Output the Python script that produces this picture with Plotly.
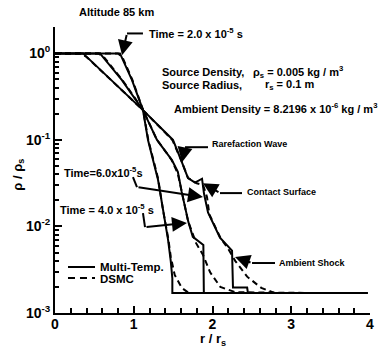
import numpy as np
import plotly.graph_objects as go

# ---- data: density ratio rho/rho_s versus r/r_s ----
# Multi-Temperature solution
mt_t2_r = [0, 0.825, 0.978, 1.117, 1.181, 1.308, 1.371, 1.435, 1.47, 1.49, 1.49, 3.97]
mt_t2_rho = [1.0, 1.0, 0.49, 0.221, 0.100, 0.0347, 0.0158, 0.00708, 0.00398, 0.00251, 0.0017, 0.0017]

mt_t4_r = [0, 0.571, 0.85, 1.117, 1.295, 1.486, 1.56, 1.57, 1.609, 1.693, 1.75, 1.884, 1.89, 3.97]
mt_t4_rho = [1.0, 1.0, 0.49, 0.221, 0.100, 0.0583, 0.0427, 0.0380, 0.0251, 0.0113, 0.00759, 0.00610, 0.0017, 0.0017]

mt_t6_r = [0, 0.356, 1.117, 1.498, 1.600, 1.689, 1.778, 1.867, 1.892, 1.943, 2.095, 2.248, 2.26, 2.44, 2.45, 3.97]
mt_t6_rho = [1.0, 1.0, 0.221, 0.100, 0.0589, 0.0363, 0.0321, 0.0356, 0.0240, 0.0145, 0.00741, 0.00525, 0.00197, 0.00197, 0.0017, 0.0017]

# DSMC solution
ds_t2_r = [0, 0.80, 0.86, 0.98, 1.117, 1.185, 1.31, 1.37, 1.44, 1.47, 1.52, 1.61, 1.70, 3.37]
ds_t2_rho = [1.0, 1.0, 0.89, 0.50, 0.224, 0.100, 0.0355, 0.0158, 0.00708, 0.00447, 0.00275, 0.00195, 0.0017, 0.0017]

ds_t4_r = [0, 0.55, 0.62, 0.85, 1.117, 1.29, 1.48, 1.56, 1.61, 1.69, 1.74, 1.79, 1.88, 1.97, 2.10, 2.29, 3.37]
ds_t4_rho = [1.0, 1.0, 0.91, 0.50, 0.224, 0.102, 0.0589, 0.0407, 0.0251, 0.0115, 0.0087, 0.00646, 0.00468, 0.00295, 0.0020, 0.00174, 0.0017]

ds_t6_r = [0, 0.33, 0.40, 1.117, 1.49, 1.60, 1.69, 1.80, 1.88, 1.93, 1.96, 2.10, 2.20, 2.29, 2.44, 2.62, 2.79, 3.37]
ds_t6_rho = [1.0, 1.0, 0.91, 0.221, 0.100, 0.0589, 0.0363, 0.0316, 0.0302, 0.0219, 0.0138, 0.00741, 0.00550, 0.00398, 0.00263, 0.00195, 0.0017, 0.0017]

x_ticks = [0, 1, 2, 3, 4]
y_ticks = [1e-3, 1e-2, 1e-1, 1]
y_tick_text = ["10<sup>-3</sup>", "10<sup>-2</sup>", "10<sup>-1</sup>", "10<sup>0</sup>"]

FONT = "Liberation Sans, Arial, sans-serif"
lg = np.log10

fig = go.Figure()

for r, rho in [(mt_t2_r, mt_t2_rho), (mt_t4_r, mt_t4_rho), (mt_t6_r, mt_t6_rho)]:
    fig.add_trace(go.Scatter(x=r, y=rho, mode="lines",
                             line=dict(color="black", width=2), hoverinfo="skip"))
for r, rho in [(ds_t2_r, ds_t2_rho), (ds_t4_r, ds_t4_rho), (ds_t6_r, ds_t6_rho)]:
    fig.add_trace(go.Scatter(x=r, y=rho, mode="lines",
                             line=dict(color="black", width=2, dash="6px,4px"), hoverinfo="skip"))

# ---- callout arrows (elbow leaders ending in an arrowhead) ----
leaders = [
    ([1.117, 0.914, 0.851], [1.70, 1.70, 0.95]),        # Time = 2.0e-5
    ([0.99, 1.041, 1.879], [0.0372, 0.0285, 0.0219]),    # Time = 6.0e-5
    ([1.117, 1.143, 1.676], [0.0143, 0.00984, 0.0110]),  # Time = 4.0e-5
    ([1.943, 1.651, 1.613], [0.0824, 0.0824, 0.0553]),   # rarefaction wave
    ([2.375, 2.095, 1.879], [0.0243, 0.0243, 0.0316]),   # contact surface
    ([2.794, 2.502, 2.286], [0.00378, 0.00378, 0.00444]),  # ambient shock
]
annotations = []
for lx, ly in leaders:
    fig.add_trace(go.Scatter(x=lx[:-1], y=ly[:-1], mode="lines",
                             line=dict(color="black", width=2), hoverinfo="skip"))
    annotations.append(dict(x=lx[-1], y=lg(ly[-1]), ax=lx[-2], ay=lg(ly[-2]),
                            xref="x", yref="y", axref="x", ayref="y",
                            text="", showarrow=True, arrowhead=2, arrowsize=1.5,
                            arrowwidth=2, arrowcolor="black", standoff=0))


def label(text, x, y, size, xanchor="left", **kw):
    annotations.append(dict(text=text, x=x, y=y, xref="x", yref="y", showarrow=False,
                            xanchor=xanchor, yanchor="middle",
                            font=dict(family=FONT, size=size, color="black", weight="bold"), **kw))


annotations.append(dict(text="Altitude 85 km", x=0.07, y=1.052, xref="paper", yref="paper",
                        showarrow=False, xanchor="left", yanchor="middle",
                        font=dict(family=FONT, size=11, color="black", weight="bold")))
label("Time = 2.0 x 10<sup>-5</sup> s", 1.168, 0.23, 11)
label("Source Density,", 1.333, -0.215, 11)
label("ρ<sub>s</sub> = 0.005 kg / m<sup>3</sup>", 2.49, -0.215, 11)
label("Source Radius,", 1.333, -0.36, 11)
label("r<sub>s</sub> = 0.1 m", 2.64, -0.36, 11)
label("Ambient Density = 8.2196 x 10<sup>-6</sup> kg / m<sup>3</sup>", 1.486, -0.634, 11)
label("Rarefaction Wave", 1.968, -1.05, 9)
label("Contact Surface", 2.413, -1.603, 9)
label("Ambient Shock", 2.819, -2.422, 9)
label("Time=6.0x10<sup>-5</sup>s", 0.089, -1.373, 11)
label("Time = 4.0 x 10<sup>-5</sup> s", 0.038, -1.799, 11)

# legend drawn by hand
label("Multi-Temp.", 0.55, -2.465, 11.5)
label("DSMC", 0.55, -2.605, 11.5)
shapes = [
    dict(type="line", xref="x", yref="paper", x0=0.165, x1=0.508, y0=(313 - 267) / 286, y1=(313 - 267) / 286,
         line=dict(color="black", width=2)),
    dict(type="line", xref="x", yref="paper", x0=0.165, x1=0.508, y0=(313 - 278) / 286, y1=(313 - 278) / 286,
         line=dict(color="black", width=2, dash="7px,5px")),
]

# axis titles
annotations.append(dict(text="r / r<sub>s</sub>", x=2.0, y=-0.093, xref="x", yref="paper",
                        showarrow=False, xanchor="center", yanchor="middle",
                        font=dict(family=FONT, size=13, color="black", weight="bold")))
annotations.append(dict(text="ρ / ρ<sub>s</sub>", x=-0.117, y=-1.40, xref="paper", yref="y",
                        showarrow=False, xanchor="center", yanchor="middle", textangle=-90,
                        font=dict(family=FONT, size=13, color="black", weight="bold")))

minor_y = [m * 10.0 ** k for k in range(-3, 1) for m in range(2, 10)]

fig.update_layout(
    width=386, height=349,
    margin=dict(l=55, r=16, t=27, b=36),
    paper_bgcolor="white", plot_bgcolor="white",
    showlegend=False,
    annotations=annotations,
    shapes=shapes,
    xaxis=dict(range=[0, 4], tickvals=x_ticks, showline=True, linewidth=2, linecolor="black",
               ticks="inside", ticklen=7, tickwidth=2, tickcolor="black", ticklabelstandoff=-3,
               minor=dict(ticks="inside", ticklen=5, tickwidth=1.5, tickcolor="black", dtick=0.2),
               showgrid=False, zeroline=False,
               tickfont=dict(family=FONT, size=14, color="black", weight="bold")),
    yaxis=dict(type="log", range=[-3, 0.305], tickvals=y_ticks, ticktext=y_tick_text,
               showline=True, linewidth=2, linecolor="black",
               ticks="inside", ticklen=7, tickwidth=2, tickcolor="black",
               minor=dict(ticks="inside", ticklen=4, tickwidth=1.5, tickcolor="black",
                          tickvals=minor_y),
               showgrid=False, zeroline=False,
               tickfont=dict(family=FONT, size=14, color="black", weight="bold")),
)

fig.write_html("out.html")
